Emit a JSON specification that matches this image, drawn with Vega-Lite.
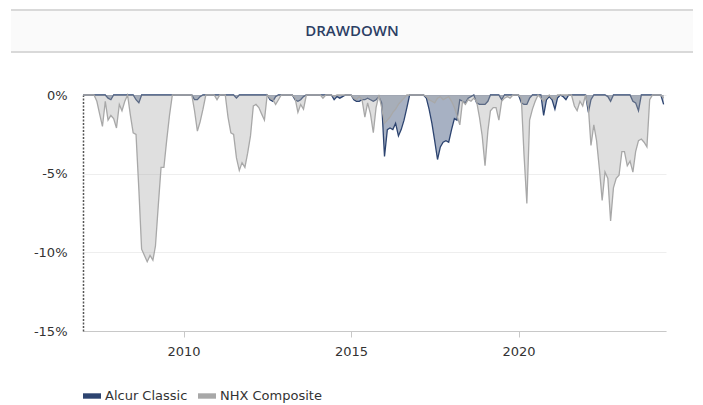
{
  "$schema": "https://vega.github.io/schema/vega-lite/v6.json",
  "padding": {"left": 10, "top": 9, "right": 0, "bottom": 0},
  "autosize": {"type": "pad"},
  "spacing": 36,
  "config": {
    "font": "DejaVu Sans",
    "view": {"stroke": null},
    "axis": {"labelFontSize": 13, "labelColor": "#333333"}
  },
  "datasets": {
    "alcur": [
      {"date": "2007-01-01", "series": "Alcur Classic", "dd": 0},
      {"date": "2007-09-01", "series": "Alcur Classic", "dd": 0},
      {"date": "2007-10-01", "series": "Alcur Classic", "dd": -0.2},
      {"date": "2007-11-01", "series": "Alcur Classic", "dd": -0.3},
      {"date": "2007-12-01", "series": "Alcur Classic", "dd": 0},
      {"date": "2008-07-01", "series": "Alcur Classic", "dd": 0},
      {"date": "2008-08-01", "series": "Alcur Classic", "dd": -0.3},
      {"date": "2008-09-01", "series": "Alcur Classic", "dd": -0.5},
      {"date": "2008-10-01", "series": "Alcur Classic", "dd": 0},
      {"date": "2010-04-01", "series": "Alcur Classic", "dd": 0},
      {"date": "2010-05-01", "series": "Alcur Classic", "dd": -0.3},
      {"date": "2010-06-01", "series": "Alcur Classic", "dd": -0.3},
      {"date": "2010-07-01", "series": "Alcur Classic", "dd": -0.1},
      {"date": "2010-08-01", "series": "Alcur Classic", "dd": 0},
      {"date": "2011-07-01", "series": "Alcur Classic", "dd": 0},
      {"date": "2011-08-01", "series": "Alcur Classic", "dd": -0.2},
      {"date": "2011-09-01", "series": "Alcur Classic", "dd": 0},
      {"date": "2012-07-01", "series": "Alcur Classic", "dd": 0},
      {"date": "2012-08-01", "series": "Alcur Classic", "dd": -0.3},
      {"date": "2012-09-01", "series": "Alcur Classic", "dd": -0.4},
      {"date": "2012-10-01", "series": "Alcur Classic", "dd": -0.1},
      {"date": "2012-11-01", "series": "Alcur Classic", "dd": 0},
      {"date": "2013-04-01", "series": "Alcur Classic", "dd": 0},
      {"date": "2013-05-01", "series": "Alcur Classic", "dd": -0.3},
      {"date": "2013-06-01", "series": "Alcur Classic", "dd": -0.4},
      {"date": "2013-07-01", "series": "Alcur Classic", "dd": -0.3},
      {"date": "2013-08-01", "series": "Alcur Classic", "dd": -0.1},
      {"date": "2013-09-01", "series": "Alcur Classic", "dd": 0},
      {"date": "2014-06-01", "series": "Alcur Classic", "dd": 0},
      {"date": "2014-07-01", "series": "Alcur Classic", "dd": -0.3},
      {"date": "2014-08-01", "series": "Alcur Classic", "dd": -0.1},
      {"date": "2014-09-01", "series": "Alcur Classic", "dd": -0.2},
      {"date": "2014-10-01", "series": "Alcur Classic", "dd": -0.1},
      {"date": "2014-11-01", "series": "Alcur Classic", "dd": 0},
      {"date": "2015-01-01", "series": "Alcur Classic", "dd": 0},
      {"date": "2015-02-01", "series": "Alcur Classic", "dd": -0.3},
      {"date": "2015-03-01", "series": "Alcur Classic", "dd": -0.4},
      {"date": "2015-04-01", "series": "Alcur Classic", "dd": -0.4},
      {"date": "2015-05-01", "series": "Alcur Classic", "dd": -0.3},
      {"date": "2015-06-01", "series": "Alcur Classic", "dd": -0.3},
      {"date": "2015-07-01", "series": "Alcur Classic", "dd": -0.2},
      {"date": "2015-08-01", "series": "Alcur Classic", "dd": -0.3},
      {"date": "2015-09-01", "series": "Alcur Classic", "dd": -0.4},
      {"date": "2015-10-01", "series": "Alcur Classic", "dd": -0.3},
      {"date": "2015-11-01", "series": "Alcur Classic", "dd": -0.1},
      {"date": "2015-12-01", "series": "Alcur Classic", "dd": -0.5},
      {"date": "2016-01-01", "series": "Alcur Classic", "dd": -3.9},
      {"date": "2016-02-01", "series": "Alcur Classic", "dd": -2.2},
      {"date": "2016-03-01", "series": "Alcur Classic", "dd": -2.1},
      {"date": "2016-04-01", "series": "Alcur Classic", "dd": -2.2},
      {"date": "2016-05-01", "series": "Alcur Classic", "dd": -1.8},
      {"date": "2016-06-01", "series": "Alcur Classic", "dd": -2.6},
      {"date": "2016-07-01", "series": "Alcur Classic", "dd": -2.2},
      {"date": "2016-08-01", "series": "Alcur Classic", "dd": -1.6},
      {"date": "2016-09-01", "series": "Alcur Classic", "dd": -0.8},
      {"date": "2016-10-01", "series": "Alcur Classic", "dd": 0},
      {"date": "2017-03-01", "series": "Alcur Classic", "dd": 0},
      {"date": "2017-04-01", "series": "Alcur Classic", "dd": -0.2},
      {"date": "2017-05-01", "series": "Alcur Classic", "dd": -0.9},
      {"date": "2017-06-01", "series": "Alcur Classic", "dd": -1.8},
      {"date": "2017-07-01", "series": "Alcur Classic", "dd": -2.9},
      {"date": "2017-08-01", "series": "Alcur Classic", "dd": -4.1},
      {"date": "2017-09-01", "series": "Alcur Classic", "dd": -3.3},
      {"date": "2017-10-01", "series": "Alcur Classic", "dd": -3.0},
      {"date": "2017-11-01", "series": "Alcur Classic", "dd": -2.9},
      {"date": "2017-12-01", "series": "Alcur Classic", "dd": -3.0},
      {"date": "2018-01-01", "series": "Alcur Classic", "dd": -2.2},
      {"date": "2018-02-01", "series": "Alcur Classic", "dd": -1.5},
      {"date": "2018-03-01", "series": "Alcur Classic", "dd": -1.6},
      {"date": "2018-04-01", "series": "Alcur Classic", "dd": -0.3},
      {"date": "2018-05-01", "series": "Alcur Classic", "dd": -0.4},
      {"date": "2018-06-01", "series": "Alcur Classic", "dd": -0.5},
      {"date": "2018-07-01", "series": "Alcur Classic", "dd": -0.2},
      {"date": "2018-08-01", "series": "Alcur Classic", "dd": -0.1},
      {"date": "2018-09-01", "series": "Alcur Classic", "dd": 0},
      {"date": "2018-10-01", "series": "Alcur Classic", "dd": -0.5},
      {"date": "2018-11-01", "series": "Alcur Classic", "dd": -0.6},
      {"date": "2018-12-01", "series": "Alcur Classic", "dd": -0.6},
      {"date": "2019-01-01", "series": "Alcur Classic", "dd": -0.6},
      {"date": "2019-02-01", "series": "Alcur Classic", "dd": -0.4},
      {"date": "2019-03-01", "series": "Alcur Classic", "dd": 0},
      {"date": "2019-06-01", "series": "Alcur Classic", "dd": 0},
      {"date": "2019-07-01", "series": "Alcur Classic", "dd": -0.3},
      {"date": "2019-08-01", "series": "Alcur Classic", "dd": 0},
      {"date": "2020-01-01", "series": "Alcur Classic", "dd": 0},
      {"date": "2020-02-01", "series": "Alcur Classic", "dd": -0.5},
      {"date": "2020-03-01", "series": "Alcur Classic", "dd": -0.6},
      {"date": "2020-04-01", "series": "Alcur Classic", "dd": -0.6},
      {"date": "2020-05-01", "series": "Alcur Classic", "dd": -0.2},
      {"date": "2020-06-01", "series": "Alcur Classic", "dd": 0},
      {"date": "2020-09-01", "series": "Alcur Classic", "dd": 0},
      {"date": "2020-10-01", "series": "Alcur Classic", "dd": -1.3},
      {"date": "2020-11-01", "series": "Alcur Classic", "dd": -0.3},
      {"date": "2020-12-01", "series": "Alcur Classic", "dd": -0.1},
      {"date": "2021-01-01", "series": "Alcur Classic", "dd": -0.3},
      {"date": "2021-02-01", "series": "Alcur Classic", "dd": -0.9},
      {"date": "2021-03-01", "series": "Alcur Classic", "dd": -0.2},
      {"date": "2021-04-01", "series": "Alcur Classic", "dd": 0},
      {"date": "2021-05-01", "series": "Alcur Classic", "dd": -0.1},
      {"date": "2021-06-01", "series": "Alcur Classic", "dd": -0.3},
      {"date": "2021-07-01", "series": "Alcur Classic", "dd": 0},
      {"date": "2022-01-01", "series": "Alcur Classic", "dd": 0},
      {"date": "2022-02-01", "series": "Alcur Classic", "dd": -1.1},
      {"date": "2022-03-01", "series": "Alcur Classic", "dd": -0.3},
      {"date": "2022-04-01", "series": "Alcur Classic", "dd": 0},
      {"date": "2022-08-01", "series": "Alcur Classic", "dd": 0},
      {"date": "2022-09-01", "series": "Alcur Classic", "dd": -0.1},
      {"date": "2022-10-01", "series": "Alcur Classic", "dd": -0.4},
      {"date": "2022-11-01", "series": "Alcur Classic", "dd": 0},
      {"date": "2023-05-01", "series": "Alcur Classic", "dd": 0},
      {"date": "2023-06-01", "series": "Alcur Classic", "dd": -0.4},
      {"date": "2023-07-01", "series": "Alcur Classic", "dd": -0.5},
      {"date": "2023-08-01", "series": "Alcur Classic", "dd": -1.0},
      {"date": "2023-09-01", "series": "Alcur Classic", "dd": 0},
      {"date": "2024-04-01", "series": "Alcur Classic", "dd": 0},
      {"date": "2024-05-01", "series": "Alcur Classic", "dd": -0.6}
    ],
    "nhx": [
      {"date": "2007-01-01", "series": "NHX Composite", "dd": 0},
      {"date": "2007-05-01", "series": "NHX Composite", "dd": 0},
      {"date": "2007-06-01", "series": "NHX Composite", "dd": -0.4},
      {"date": "2007-07-01", "series": "NHX Composite", "dd": -1.2},
      {"date": "2007-08-01", "series": "NHX Composite", "dd": -2.0},
      {"date": "2007-09-01", "series": "NHX Composite", "dd": -0.4},
      {"date": "2007-10-01", "series": "NHX Composite", "dd": -1.6},
      {"date": "2007-11-01", "series": "NHX Composite", "dd": -1.3},
      {"date": "2007-12-01", "series": "NHX Composite", "dd": -1.5},
      {"date": "2008-01-01", "series": "NHX Composite", "dd": -2.1},
      {"date": "2008-02-01", "series": "NHX Composite", "dd": -0.6},
      {"date": "2008-03-01", "series": "NHX Composite", "dd": -1.0},
      {"date": "2008-04-01", "series": "NHX Composite", "dd": -0.4},
      {"date": "2008-05-01", "series": "NHX Composite", "dd": 0},
      {"date": "2008-06-01", "series": "NHX Composite", "dd": -1.3},
      {"date": "2008-07-01", "series": "NHX Composite", "dd": -2.4},
      {"date": "2008-08-01", "series": "NHX Composite", "dd": -2.5},
      {"date": "2008-09-01", "series": "NHX Composite", "dd": -6.0},
      {"date": "2008-10-01", "series": "NHX Composite", "dd": -9.8},
      {"date": "2008-11-01", "series": "NHX Composite", "dd": -10.2},
      {"date": "2008-12-01", "series": "NHX Composite", "dd": -10.6},
      {"date": "2009-01-01", "series": "NHX Composite", "dd": -10.2},
      {"date": "2009-02-01", "series": "NHX Composite", "dd": -10.5},
      {"date": "2009-03-01", "series": "NHX Composite", "dd": -9.6},
      {"date": "2009-04-01", "series": "NHX Composite", "dd": -7.0},
      {"date": "2009-05-01", "series": "NHX Composite", "dd": -4.6},
      {"date": "2009-06-01", "series": "NHX Composite", "dd": -4.6},
      {"date": "2009-07-01", "series": "NHX Composite", "dd": -2.9},
      {"date": "2009-08-01", "series": "NHX Composite", "dd": -1.3},
      {"date": "2009-09-01", "series": "NHX Composite", "dd": 0},
      {"date": "2010-04-01", "series": "NHX Composite", "dd": 0},
      {"date": "2010-05-01", "series": "NHX Composite", "dd": -1.0},
      {"date": "2010-06-01", "series": "NHX Composite", "dd": -2.3},
      {"date": "2010-07-01", "series": "NHX Composite", "dd": -1.7},
      {"date": "2010-08-01", "series": "NHX Composite", "dd": -0.9},
      {"date": "2010-09-01", "series": "NHX Composite", "dd": 0},
      {"date": "2010-12-01", "series": "NHX Composite", "dd": 0},
      {"date": "2011-01-01", "series": "NHX Composite", "dd": -0.3},
      {"date": "2011-02-01", "series": "NHX Composite", "dd": 0},
      {"date": "2011-04-01", "series": "NHX Composite", "dd": 0},
      {"date": "2011-05-01", "series": "NHX Composite", "dd": -1.4},
      {"date": "2011-06-01", "series": "NHX Composite", "dd": -2.4},
      {"date": "2011-07-01", "series": "NHX Composite", "dd": -2.5},
      {"date": "2011-08-01", "series": "NHX Composite", "dd": -4.0},
      {"date": "2011-09-01", "series": "NHX Composite", "dd": -4.8},
      {"date": "2011-10-01", "series": "NHX Composite", "dd": -4.3},
      {"date": "2011-11-01", "series": "NHX Composite", "dd": -4.6},
      {"date": "2011-12-01", "series": "NHX Composite", "dd": -3.7},
      {"date": "2012-01-01", "series": "NHX Composite", "dd": -2.6},
      {"date": "2012-02-01", "series": "NHX Composite", "dd": -0.7},
      {"date": "2012-03-01", "series": "NHX Composite", "dd": -0.6},
      {"date": "2012-04-01", "series": "NHX Composite", "dd": -0.8},
      {"date": "2012-05-01", "series": "NHX Composite", "dd": -1.2},
      {"date": "2012-06-01", "series": "NHX Composite", "dd": -1.6},
      {"date": "2012-07-01", "series": "NHX Composite", "dd": 0},
      {"date": "2012-08-01", "series": "NHX Composite", "dd": -0.2},
      {"date": "2012-09-01", "series": "NHX Composite", "dd": -0.3},
      {"date": "2012-10-01", "series": "NHX Composite", "dd": -0.6},
      {"date": "2012-11-01", "series": "NHX Composite", "dd": -0.3},
      {"date": "2012-12-01", "series": "NHX Composite", "dd": 0},
      {"date": "2013-04-01", "series": "NHX Composite", "dd": 0},
      {"date": "2013-05-01", "series": "NHX Composite", "dd": -0.2},
      {"date": "2013-06-01", "series": "NHX Composite", "dd": -1.1},
      {"date": "2013-07-01", "series": "NHX Composite", "dd": -0.6},
      {"date": "2013-08-01", "series": "NHX Composite", "dd": -0.9},
      {"date": "2013-09-01", "series": "NHX Composite", "dd": 0},
      {"date": "2014-02-01", "series": "NHX Composite", "dd": 0},
      {"date": "2014-03-01", "series": "NHX Composite", "dd": -0.2},
      {"date": "2014-04-01", "series": "NHX Composite", "dd": 0},
      {"date": "2014-06-01", "series": "NHX Composite", "dd": 0},
      {"date": "2014-07-01", "series": "NHX Composite", "dd": -0.1},
      {"date": "2014-08-01", "series": "NHX Composite", "dd": 0},
      {"date": "2015-01-01", "series": "NHX Composite", "dd": 0},
      {"date": "2015-02-01", "series": "NHX Composite", "dd": -0.2},
      {"date": "2015-03-01", "series": "NHX Composite", "dd": -0.3},
      {"date": "2015-04-01", "series": "NHX Composite", "dd": -0.1},
      {"date": "2015-05-01", "series": "NHX Composite", "dd": -0.3},
      {"date": "2015-06-01", "series": "NHX Composite", "dd": -1.4},
      {"date": "2015-07-01", "series": "NHX Composite", "dd": -0.5},
      {"date": "2015-08-01", "series": "NHX Composite", "dd": -1.2},
      {"date": "2015-09-01", "series": "NHX Composite", "dd": -2.4},
      {"date": "2015-10-01", "series": "NHX Composite", "dd": -0.8},
      {"date": "2015-11-01", "series": "NHX Composite", "dd": 0},
      {"date": "2015-12-01", "series": "NHX Composite", "dd": -0.8},
      {"date": "2016-01-01", "series": "NHX Composite", "dd": -1.8},
      {"date": "2016-02-01", "series": "NHX Composite", "dd": -1.6},
      {"date": "2016-03-01", "series": "NHX Composite", "dd": -1.4},
      {"date": "2016-04-01", "series": "NHX Composite", "dd": -1.1},
      {"date": "2016-05-01", "series": "NHX Composite", "dd": -0.9},
      {"date": "2016-06-01", "series": "NHX Composite", "dd": -0.6},
      {"date": "2016-07-01", "series": "NHX Composite", "dd": -0.4},
      {"date": "2016-08-01", "series": "NHX Composite", "dd": -0.2},
      {"date": "2016-09-01", "series": "NHX Composite", "dd": 0},
      {"date": "2017-03-01", "series": "NHX Composite", "dd": 0},
      {"date": "2017-04-01", "series": "NHX Composite", "dd": -0.1},
      {"date": "2017-05-01", "series": "NHX Composite", "dd": -0.3},
      {"date": "2017-06-01", "series": "NHX Composite", "dd": -0.4},
      {"date": "2017-07-01", "series": "NHX Composite", "dd": -0.5},
      {"date": "2017-08-01", "series": "NHX Composite", "dd": -0.2},
      {"date": "2017-09-01", "series": "NHX Composite", "dd": -0.1},
      {"date": "2017-10-01", "series": "NHX Composite", "dd": -0.3},
      {"date": "2017-11-01", "series": "NHX Composite", "dd": -0.2},
      {"date": "2017-12-01", "series": "NHX Composite", "dd": -0.1},
      {"date": "2018-01-01", "series": "NHX Composite", "dd": -0.4},
      {"date": "2018-02-01", "series": "NHX Composite", "dd": -0.8},
      {"date": "2018-03-01", "series": "NHX Composite", "dd": -1.3},
      {"date": "2018-04-01", "series": "NHX Composite", "dd": -1.9},
      {"date": "2018-05-01", "series": "NHX Composite", "dd": -0.4},
      {"date": "2018-06-01", "series": "NHX Composite", "dd": -0.6},
      {"date": "2018-07-01", "series": "NHX Composite", "dd": -0.3},
      {"date": "2018-08-01", "series": "NHX Composite", "dd": -0.4},
      {"date": "2018-09-01", "series": "NHX Composite", "dd": -0.2},
      {"date": "2018-10-01", "series": "NHX Composite", "dd": -0.4},
      {"date": "2018-11-01", "series": "NHX Composite", "dd": -1.4},
      {"date": "2018-12-01", "series": "NHX Composite", "dd": -2.6},
      {"date": "2019-01-01", "series": "NHX Composite", "dd": -4.5},
      {"date": "2019-02-01", "series": "NHX Composite", "dd": -2.3},
      {"date": "2019-03-01", "series": "NHX Composite", "dd": -1.0},
      {"date": "2019-04-01", "series": "NHX Composite", "dd": -0.8},
      {"date": "2019-05-01", "series": "NHX Composite", "dd": -0.8},
      {"date": "2019-06-01", "series": "NHX Composite", "dd": -1.6},
      {"date": "2019-07-01", "series": "NHX Composite", "dd": -0.4},
      {"date": "2019-08-01", "series": "NHX Composite", "dd": -0.2},
      {"date": "2019-09-01", "series": "NHX Composite", "dd": -0.1},
      {"date": "2019-10-01", "series": "NHX Composite", "dd": -0.2},
      {"date": "2019-11-01", "series": "NHX Composite", "dd": 0},
      {"date": "2020-01-01", "series": "NHX Composite", "dd": 0},
      {"date": "2020-02-01", "series": "NHX Composite", "dd": -0.2},
      {"date": "2020-03-01", "series": "NHX Composite", "dd": -3.8},
      {"date": "2020-04-01", "series": "NHX Composite", "dd": -6.9},
      {"date": "2020-05-01", "series": "NHX Composite", "dd": -1.6},
      {"date": "2020-06-01", "series": "NHX Composite", "dd": -0.9},
      {"date": "2020-07-01", "series": "NHX Composite", "dd": -0.4},
      {"date": "2020-08-01", "series": "NHX Composite", "dd": 0},
      {"date": "2020-09-01", "series": "NHX Composite", "dd": -0.2},
      {"date": "2020-10-01", "series": "NHX Composite", "dd": -0.4},
      {"date": "2020-11-01", "series": "NHX Composite", "dd": -0.2},
      {"date": "2020-12-01", "series": "NHX Composite", "dd": 0},
      {"date": "2021-01-01", "series": "NHX Composite", "dd": -0.2},
      {"date": "2021-02-01", "series": "NHX Composite", "dd": -0.3},
      {"date": "2021-03-01", "series": "NHX Composite", "dd": 0},
      {"date": "2021-08-01", "series": "NHX Composite", "dd": 0},
      {"date": "2021-09-01", "series": "NHX Composite", "dd": -0.7},
      {"date": "2021-10-01", "series": "NHX Composite", "dd": -1.0},
      {"date": "2021-11-01", "series": "NHX Composite", "dd": -0.4},
      {"date": "2021-12-01", "series": "NHX Composite", "dd": -0.7},
      {"date": "2022-01-01", "series": "NHX Composite", "dd": 0},
      {"date": "2022-02-01", "series": "NHX Composite", "dd": -0.8},
      {"date": "2022-03-01", "series": "NHX Composite", "dd": -3.2},
      {"date": "2022-04-01", "series": "NHX Composite", "dd": -1.9},
      {"date": "2022-05-01", "series": "NHX Composite", "dd": -2.9},
      {"date": "2022-06-01", "series": "NHX Composite", "dd": -4.7},
      {"date": "2022-07-01", "series": "NHX Composite", "dd": -6.7},
      {"date": "2022-08-01", "series": "NHX Composite", "dd": -4.9},
      {"date": "2022-09-01", "series": "NHX Composite", "dd": -5.3},
      {"date": "2022-10-01", "series": "NHX Composite", "dd": -8.0},
      {"date": "2022-11-01", "series": "NHX Composite", "dd": -5.9},
      {"date": "2022-12-01", "series": "NHX Composite", "dd": -5.3},
      {"date": "2023-01-01", "series": "NHX Composite", "dd": -5.1},
      {"date": "2023-02-01", "series": "NHX Composite", "dd": -3.6},
      {"date": "2023-03-01", "series": "NHX Composite", "dd": -3.6},
      {"date": "2023-04-01", "series": "NHX Composite", "dd": -4.5},
      {"date": "2023-05-01", "series": "NHX Composite", "dd": -4.2},
      {"date": "2023-06-01", "series": "NHX Composite", "dd": -4.9},
      {"date": "2023-07-01", "series": "NHX Composite", "dd": -3.6},
      {"date": "2023-08-01", "series": "NHX Composite", "dd": -2.9},
      {"date": "2023-09-01", "series": "NHX Composite", "dd": -2.8},
      {"date": "2023-10-01", "series": "NHX Composite", "dd": -3.0},
      {"date": "2023-11-01", "series": "NHX Composite", "dd": -3.3},
      {"date": "2023-12-01", "series": "NHX Composite", "dd": -0.3},
      {"date": "2024-01-01", "series": "NHX Composite", "dd": 0},
      {"date": "2024-04-01", "series": "NHX Composite", "dd": 0},
      {"date": "2024-05-01", "series": "NHX Composite", "dd": -0.2}
    ]
  },
  "vconcat": [
    {
      "width": 682,
      "height": 42,
      "view": {"fill": "#fafafa", "stroke": "#d9d9d9", "strokeWidth": 2, "strokeDash": [682, 42]},
      "data": {"values": [{"label": "DRAWDOWN"}]},
      "mark": {"type": "text", "font": "Open Sans", "fontSize": 15, "fontWeight": 600, "color": "#2c3e64", "align": "center", "baseline": "middle"},
      "encoding": {"text": {"field": "label", "type": "nominal"}}
    },
    {
      "width": 655,
      "height": 236,
      "layer": [
        {
          "data": {"name": "alcur"},
          "mark": {"type": "area", "fillOpacity": 0.42, "line": {"strokeWidth": 1.3}},
          "encoding": {
            "x": {
              "field": "date", "type": "temporal",
              "scale": {"domain": [{"year": 2007, "month": 1, "date": 1}, {"year": 2024, "month": 5, "date": 27}], "range": [72, 655]},
              "axis": {"title": null, "format": "%Y", "tickCount": {"interval": "year", "step": 5}, "grid": false, "domainColor": "#c8c8c8", "tickColor": "#c8c8c8", "tickSize": 6, "labelPadding": 8, "labelFontSize": 13}
            },
            "y": {
              "field": "dd", "type": "quantitative", "stack": null,
              "scale": {"domain": [-15, 0], "nice": false},
              "axis": {"title": null, "values": [0, -5, -10, -15], "labelExpr": "datum.value + '%'", "ticks": false, "offset": -72, "labelPadding": 16, "domainColor": "#555555", "domainDash": [2, 1.5], "domainWidth": 1.5, "gridColor": "#eeeeee"}
            },
            "color": {
              "field": "series", "type": "nominal",
              "scale": {"domain": ["Alcur Classic", "NHX Composite"], "range": ["#2d4470", "#a8a8a8"]},
              "legend": {"title": null, "orient": "none", "legendX": 72, "legendY": 377, "direction": "horizontal", "symbolType": "M-1,-0.3H1V0.3H-1Z", "symbolSize": 324, "symbolStrokeWidth": 0, "symbolOpacity": 1, "labelFontSize": 13, "labelColor": "#333333", "columnPadding": 10, "labelOffset": 4}
            }
          }
        },
        {
          "data": {"name": "nhx"},
          "mark": {"type": "area", "fillOpacity": 0.37, "line": {"strokeWidth": 1.3}},
          "encoding": {
            "x": {"field": "date", "type": "temporal"},
            "y": {"field": "dd", "type": "quantitative", "stack": null},
            "color": {"field": "series", "type": "nominal"}
          }
        }
      ]
    }
  ]
}
